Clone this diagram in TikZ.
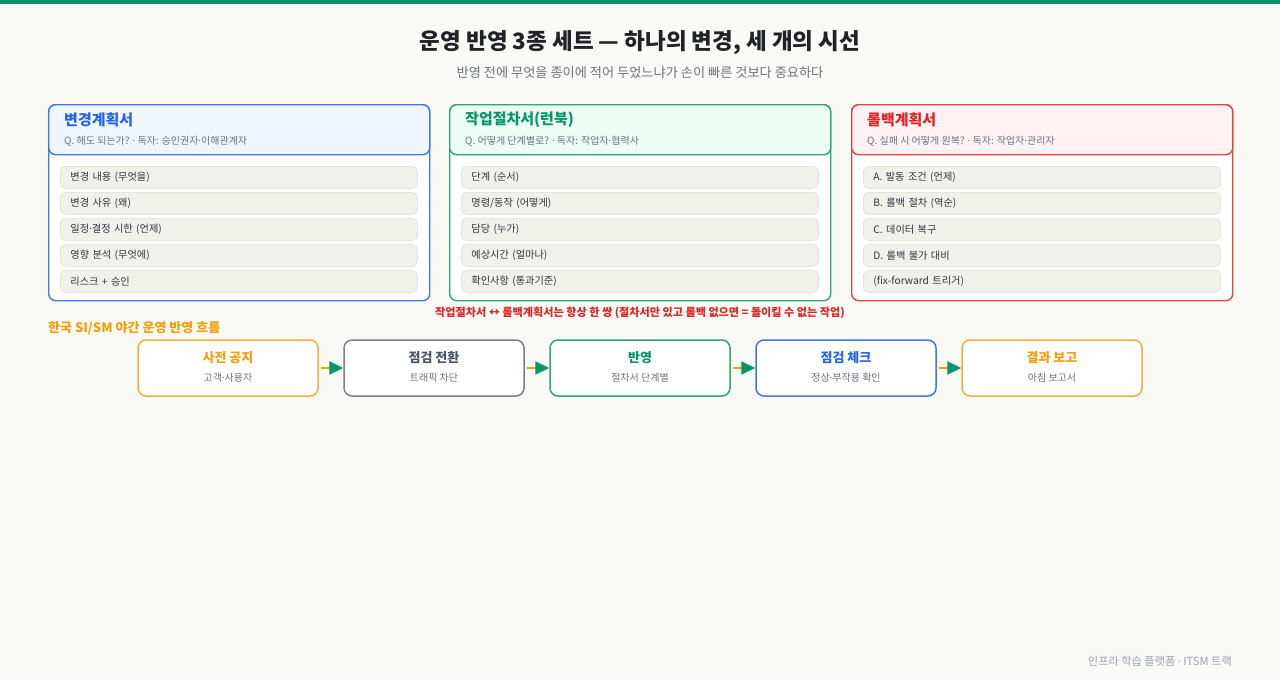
\documentclass[tikz,border=0pt]{standalone}
\usepackage{fontspec}
\setmainfont{Noto Sans CJK KR}
\newfontfamily\latinfont{Noto Sans}
\newcommand\mdot{{\latinfont ·}}
\usetikzlibrary{arrows.meta}
\definecolor{bg}{HTML}{F9FAF6}
\definecolor{topgreen}{HTML}{079669}
\definecolor{tblue}{HTML}{2563EB}
\definecolor{bblue}{HTML}{3B78EE}
\definecolor{fblue}{HTML}{EFF6FF}
\definecolor{tgreen}{HTML}{059669}
\definecolor{bgreen}{HTML}{2FA37A}
\definecolor{fgreen}{HTML}{ECFDF5}
\definecolor{tred}{HTML}{DC2626}
\definecolor{bred}{HTML}{E04545}
\definecolor{fred}{HTML}{FEF2F2}
\definecolor{itemfill}{HTML}{F1F1EC}
\definecolor{itemline}{HTML}{E5E5DF}
\definecolor{graytxt}{HTML}{6B7280}
\definecolor{dark}{HTML}{1F2328}
\definecolor{itemtxt}{HTML}{2F3540}
\definecolor{orng}{HTML}{F59E0B}
\definecolor{borng}{HTML}{F5AE3A}
\definecolor{bgray}{HTML}{7B808A}
\definecolor{tgray}{HTML}{4B5563}
\definecolor{foot}{HTML}{9CA3AF}
\tikzset{
  card/.style={draw=#1, line width=1.4pt, rounded corners=7pt, fill=white, anchor=north west, minimum width=381pt, minimum height=196pt, inner sep=0pt},
  cardhead/.style={card=#1, minimum height=50pt},
  cardtitle/.style={anchor=west, font=\fontsize{15}{18}\selectfont\bfseries, inner sep=0pt},
  cardsub/.style={anchor=west, font=\fontsize{10}{12}\selectfont, text=graytxt, inner sep=0pt},
  item/.style={draw=itemline, fill=itemfill, line width=0.8pt, rounded corners=5pt, anchor=north west, minimum width=357pt, minimum height=22pt, text width=337pt, align=left, inner xsep=10pt, inner ysep=0pt, font=\fontsize{10.2}{12}\selectfont, text=itemtxt},
  flowbox/.style={draw=#1, line width=1.5pt, rounded corners=8pt, fill=white, minimum width=180pt, minimum height=56pt, inner sep=0pt},
  flowtitle/.style={font=\fontsize{13}{15}\selectfont\bfseries, text=#1, inner sep=0pt},
  flowsub/.style={font=\fontsize{10}{12}\selectfont, text=graytxt, inner sep=0pt},
  flowarrow/.style={draw=orng, line width=2pt, -{Triangle[length=14pt, width=13pt, color=tgreen]}, shorten <=2pt},
}
\begin{document}
\begin{tikzpicture}[x=1pt,y=-1pt]
\fill[bg] (0,0) rectangle (1280,680);
\useasboundingbox (0,0) rectangle (1280,680);
\fill[topgreen] (0,0) rectangle (1280,4);
% title
\node[font=\fontsize{22.5}{26}\selectfont\bfseries, text=dark, inner sep=0pt] (title) at (640,43) {운영 반영 3종 세트 — 하나의 변경, 세 개의 시선};
\node[font=\fontsize{13.2}{15}\selectfont, text=graytxt, inner sep=0pt] (subtitle) at (640,73) {반영 전에 무엇을 종이에 적어 두었느냐가 손이 빠른 것보다 중요하다};
% card 1
\node[card=bblue] (c1) at (48,104) {};
\node[cardhead=bblue, fill=fblue] (h1) at (48,104) {};
\node[cardtitle, text=tblue] (t1) at (64,120) {변경계획서};
\node[cardsub] (s1) at (64,141) {Q. 해도 되는가? \mdot{} 독자: 승인권자\mdot{}이해관계자};
\node[item] (i11) at (60,166) {변경 내용 (무엇을)};
\node[item] (i12) at (60,192) {변경 사유 (왜)};
\node[item] (i13) at (60,218) {일정\mdot{}결정 시한 (언제)};
\node[item] (i14) at (60,244) {영향 분석 (무엇에)};
\node[item] (i15) at (60,270) {리스크 + 승인};
% card 2
\node[card=bgreen] (c2) at (449,104) {};
\node[cardhead=bgreen, fill=fgreen] (h2) at (449,104) {};
\node[cardtitle, text=tgreen] (t2) at (465,120) {작업절차서(런북)};
\node[cardsub] (s2) at (465,141) {Q. 어떻게 단계별로? \mdot{} 독자: 작업자\mdot{}협력사};
\node[item] (i21) at (461,166) {단계 (순서)};
\node[item] (i22) at (461,192) {명령/동작 (어떻게)};
\node[item] (i23) at (461,218) {담당 (누가)};
\node[item] (i24) at (461,244) {예상시간 (얼마나)};
\node[item] (i25) at (461,270) {확인사항 (통과기준)};
% card 3
\node[card=bred] (c3) at (851,104) {};
\node[cardhead=bred, fill=fred] (h3) at (851,104) {};
\node[cardtitle, text=tred] (t3) at (867,120) {롤백계획서};
\node[cardsub] (s3) at (867,141) {Q. 실패 시 어떻게 원복? \mdot{} 독자: 작업자\mdot{}관리자};
\node[item] (i31) at (863,166) {A. 발동 조건 (언제)};
\node[item] (i32) at (863,192) {B. 롤백 절차 (역순)};
\node[item] (i33) at (863,218) {C. 데이터 복구};
\node[item] (i34) at (863,244) {D. 롤백 불가 대비};
\node[item] (i35) at (863,270) {(fix-forward 트리거)};
% pair note
\node[font=\fontsize{11.1}{13}\selectfont\bfseries, text=tred, inner sep=0pt] (note) at (640,313) {작업절차서 ↔ 롤백계획서는 항상 한 쌍 (절차서만 있고 롤백 없으면 = 돌이킬 수 없는 작업)};
% flow heading
\node[anchor=west, font=\fontsize{13}{15}\selectfont\bfseries, text=orng, inner sep=0pt] (flowhead) at (48,328) {한국 SI/SM 야간 운영 반영 흐름};
% flow boxes
\node[flowbox=borng] (b1) at (228,368) {};
\node[flowbox=bgray] (b2) at (434,368) {};
\node[flowbox=bgreen] (b3) at (640,368) {};
\node[flowbox=bblue] (b4) at (846,368) {};
\node[flowbox=borng] (b5) at (1052,368) {};
\node[flowtitle=orng] (bt1) at ([yshift=10pt]b1.center) {사전 공지};
\node[flowsub] (bs1) at ([yshift=-10pt]b1.center) {고객\mdot{}사용자};
\node[flowtitle=tgray] (bt2) at ([yshift=10pt]b2.center) {점검 전환};
\node[flowsub] (bs2) at ([yshift=-10pt]b2.center) {트래픽 차단};
\node[flowtitle=tgreen] (bt3) at ([yshift=10pt]b3.center) {반영};
\node[flowsub] (bs3) at ([yshift=-10pt]b3.center) {절차서 단계별};
\node[flowtitle=tblue] (bt4) at ([yshift=10pt]b4.center) {점검 체크};
\node[flowsub] (bs4) at ([yshift=-10pt]b4.center) {정상\mdot{}부작용 확인};
\node[flowtitle=orng] (bt5) at ([yshift=10pt]b5.center) {결과 보고};
\node[flowsub] (bs5) at ([yshift=-10pt]b5.center) {아침 보고서};
\draw[flowarrow] (b1.east) -- (b2.west);
\draw[flowarrow] (b2.east) -- (b3.west);
\draw[flowarrow] (b3.east) -- (b4.west);
\draw[flowarrow] (b4.east) -- (b5.west);
% footer
\node[anchor=east, font=\fontsize{11.2}{13}\selectfont, text=foot, inner sep=0pt] (footer) at (1232,661) {인프라 학습 플랫폼 \mdot{} ITSM 트랙};
\end{tikzpicture}
\end{document}
